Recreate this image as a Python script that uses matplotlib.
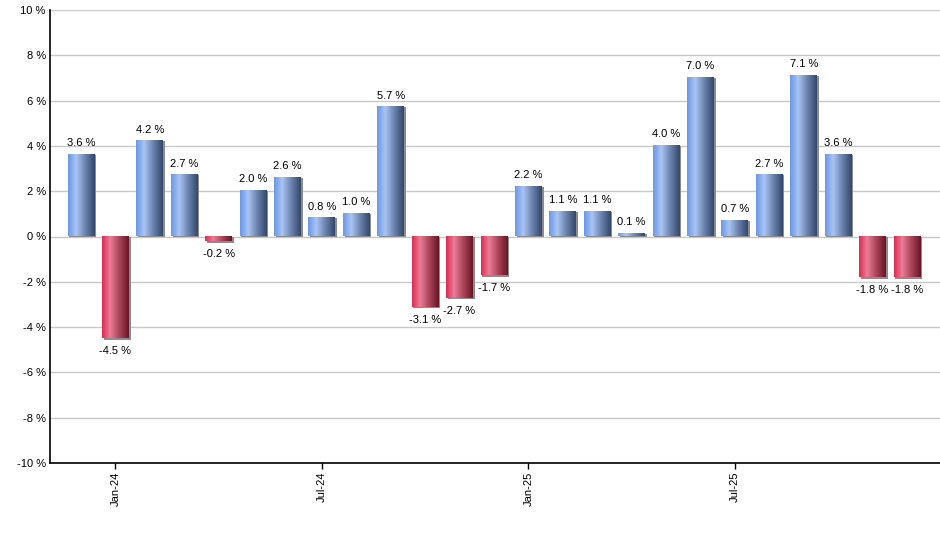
import numpy as np
import matplotlib.pyplot as plt
from matplotlib.colors import LinearSegmentedColormap

months = ['Dec-23', 'Jan-24', 'Feb-24', 'Mar-24', 'Apr-24', 'May-24', 'Jun-24',
          'Jul-24', 'Aug-24', 'Sep-24', 'Oct-24', 'Nov-24', 'Dec-24',
          'Jan-25', 'Feb-25', 'Mar-25', 'Apr-25', 'May-25', 'Jun-25',
          'Jul-25', 'Aug-25', 'Sep-25', 'Oct-25', 'Nov-25', 'Dec-25']
returns = [3.6, -4.5, 4.2, 2.7, -0.2, 2.0, 2.6, 0.8, 1.0, 5.7, -3.1, -2.7, -1.7,
           2.2, 1.1, 1.1, 0.1, 4.0, 7.0, 0.7, 2.7, 7.1, 3.6, -1.8, -1.8]
tick_months = ['Jan-24', 'Jul-24', 'Jan-25', 'Jul-25']
yticks = [-10, -8, -6, -4, -2, 0, 2, 4, 6, 8, 10]

plt.rcParams['font.family'] = ['Liberation Sans', 'DejaVu Sans']

blue = LinearSegmentedColormap.from_list(
    'blue', [(0, '#6b98e6'), (0.3, '#aac4f3'), (0.65, '#6a82ad'), (1, '#34476c')])
red = LinearSegmentedColormap.from_list(
    'red', [(0, '#de2c55'), (0.3, '#ea7d96'), (0.65, '#a94458'), (1, '#681626')])
grad = np.linspace(0, 1, 64).reshape(1, -1)

fig = plt.figure(figsize=(9.4, 5.5), dpi=100)
ax = fig.add_axes([50 / 940, 87 / 550, 890 / 940, 453 / 550])

x = np.arange(len(months))
w = 0.78
for xi, v in zip(x, returns):
    cmap = blue if v >= 0 else red
    # shadow
    if v >= 0:
        ax.add_patch(plt.Rectangle((xi - w / 2 + 0.05, 0), w, v, color='#8c8c8c', zorder=2, lw=0))
    else:
        ax.add_patch(plt.Rectangle((xi - w / 2 + 0.05, 0), w, v - 0.07, color='#8c8c8c', zorder=2, lw=0))
    ax.imshow(grad, cmap=cmap, aspect='auto', zorder=3, interpolation='bilinear',
              extent=(xi - w / 2, xi + w / 2, min(0, v), max(0, v)))
    if v >= 0:
        ax.text(xi, v + 0.3, f'{v:.1f} %', ha='center', va='bottom', fontsize=8, zorder=4)
    else:
        ax.text(xi, v - 0.35, f'{v:.1f} %', ha='center', va='top', fontsize=8, zorder=4)

ax.set_xlim(-0.9, 24.96)
ax.set_ylim(-10, 10)
ax.set_yticks(yticks)
ax.set_yticklabels([f'{t} %' for t in yticks], fontsize=8)
ax.set_xticks([months.index(m) for m in tick_months])
ax.set_xticklabels(tick_months, rotation=90, fontsize=8)
ax.tick_params(axis='y', length=0, pad=3)
ax.tick_params(axis='x', length=4, width=1, direction='out', pad=2)
ax.grid(axis='y', color='#c8c8c8', lw=1, zorder=0)
ax.set_axisbelow(True)
for s in ['top', 'right']:
    ax.spines[s].set_visible(False)
for s in ['left', 'bottom']:
    ax.spines[s].set_color('black')
    ax.spines[s].set_linewidth(1.2)
    ax.spines[s].set_zorder(5)

fig.savefig('out.png', dpi=100)
